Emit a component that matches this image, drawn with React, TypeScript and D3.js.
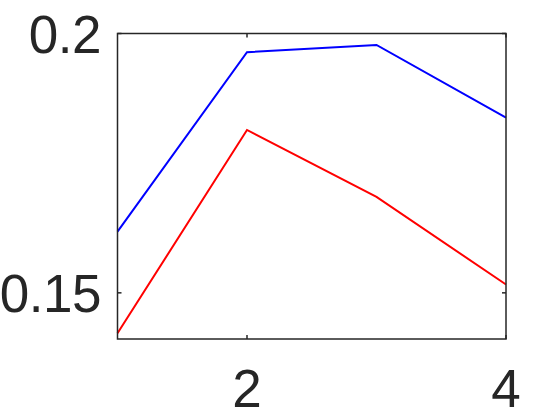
import React from "react";
import * as d3 from "d3";

const xValues = [1, 2, 3, 4];
const blueSeries = [0.1618, 0.1964, 0.1978, 0.1838];
const redSeries = [0.1422, 0.1814, 0.1685, 0.1516];
const xTicks = [2, 4];
const yTicks = [0.15, 0.2];
const yTickLabels = ["0.15", "0.2"];

const W = 560;
const H = 420;
const left = 117.5;
const right = 506;
const top = 33.5;
const bottom = 339;
const axisColor = "#262626";
const fontSize = 53;

export default function App() {
  const x = d3.scaleLinear().domain([1, 4]).range([left, right]);
  const y = d3.scaleLinear().domain([0.1411, 0.2]).range([bottom, top]);
  const line = d3
    .line<number>()
    .x((_, i) => x(xValues[i]))
    .y((d) => y(d));
  const tl = 4;
  return (
    <svg
      width={W}
      height={H}
      style={{ position: "absolute", left: 0, top: 0, background: "#fff" }}
      fontFamily="'Liberation Sans', Arial, sans-serif"
    >
      <rect x={0} y={0} width={W} height={H} fill="#fff" />
      <path d={line(blueSeries) || ""} fill="none" stroke="#0000ff" strokeWidth={2} />
      <path d={line(redSeries) || ""} fill="none" stroke="#ff0000" strokeWidth={2} />
      <rect
        x={left}
        y={top}
        width={right - left}
        height={bottom - top}
        fill="none"
        stroke={axisColor}
        strokeWidth={1.5}
      />
      {xTicks.map((t) => (
        <g key={"x" + t}>
          <line x1={x(t)} x2={x(t)} y1={bottom} y2={bottom - tl} stroke={axisColor} strokeWidth={1.5} />
          <line x1={x(t)} x2={x(t)} y1={top} y2={top + tl} stroke={axisColor} strokeWidth={1.5} />
          <text x={x(t)} y={bottom + 68} textAnchor="middle" fontSize={fontSize} fill={axisColor}>
            {t}
          </text>
        </g>
      ))}
      {yTicks.map((t, i) => (
        <g key={"y" + t}>
          <line x1={left} x2={left + tl} y1={y(t)} y2={y(t)} stroke={axisColor} strokeWidth={1.5} />
          <line x1={right} x2={right - tl} y1={y(t)} y2={y(t)} stroke={axisColor} strokeWidth={1.5} />
          <text
            x={101}
            y={y(t) + 19.5}
            textAnchor="end"
            fontSize={fontSize}
            letterSpacing={-0.5}
            fill={axisColor}
          >
            {yTickLabels[i]}
          </text>
        </g>
      ))}
    </svg>
  );
}
